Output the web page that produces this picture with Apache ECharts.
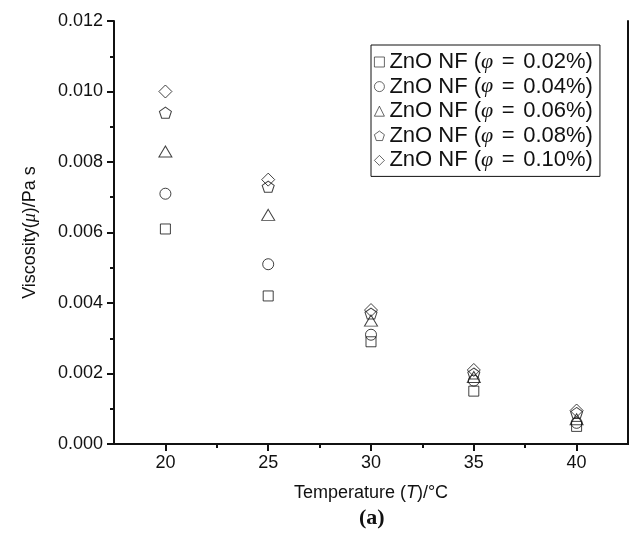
<!DOCTYPE html>
<html>
<head>
<meta charset="utf-8">
<script src="https://cdn.jsdelivr.net/npm/echarts@6/dist/echarts.min.js"></script>
<style>
  html, body { margin: 0; padding: 0; background: #fff; }
  #main { width: 636px; height: 544px; }
</style>
</head>
<body>
<div id="main"></div>
<script>
// temperatures (°C)
var temps = [20, 25, 30, 35, 40];
// volume fractions for the legend
var phis = ['0.02', '0.04', '0.06', '0.08', '0.10'];
// viscosity (Pa s), one list per fraction
var visc002 = [0.0061, 0.0042, 0.0029, 0.0015, 0.00050];
var visc004 = [0.0071, 0.0051, 0.0031, 0.0018, 0.00060];
var visc006 = [0.0083, 0.0065, 0.0035, 0.0019, 0.00070];
var visc008 = [0.0094, 0.0073, 0.0037, 0.0020, 0.00088];
var visc010 = [0.0100, 0.0075, 0.0038, 0.0021, 0.00095];
var xMajor = [20, 25, 30, 35, 40];
var xMinor = [22.5, 27.5, 32.5, 37.5];

var pentagon = 'path://M50 0 L97.6 34.5 L79.4 90.5 L20.6 90.5 L2.4 34.5 Z';
var symbols = ['rect', 'circle', 'triangle', pentagon, 'diamond'];
var sizes = [[10, 10], [11, 11], [13, 11], [12, 11], [13, 13]];
var allData = [visc002, visc004, visc006, visc008, visc010];

var font = 'Liberation Sans, Arial, sans-serif';

var series = [];
for (var i = 0; i < allData.length; i++) {
  var pts = [];
  for (var j = 0; j < temps.length; j++) pts.push([temps[j], allData[i][j]]);
  series.push({
    name: 'ZnO NF (\u03C6 = ' + phis[i] + '%)',
    type: 'scatter',
    data: pts,
    symbol: symbols[i],
    symbolSize: sizes[i],
    itemStyle: { color: 'rgba(0,0,0,0)', borderColor: '#111', borderWidth: 1 },
    emphasis: { disabled: true }
  });
}

var myChart = echarts.init(document.getElementById('main'));
var option = {
  backgroundColor: '#fff',
  animation: false,
  grid: { left: 114, right: 8, top: 21, bottom: 100 },
  legend: {
    orient: 'vertical',
    left: 371, top: 45,
    padding: [6, 7, 5, 3],
    itemGap: 2.6,
    itemWidth: 10, itemHeight: 10,
    itemStyle: { borderWidth: 0.8 },
    borderColor: '#111', borderWidth: 1,
    textStyle: {
      fontFamily: font, fontSize: 22, lineHeight: 22, color: '#111', padding: [0, 0, 0, 0],
      rich: {
        i: { fontFamily: 'Liberation Serif, serif', fontStyle: 'italic', fontSize: 22, lineHeight: 22, color: '#111' },
        e: { fontFamily: font, fontSize: 22, lineHeight: 22, color: '#111', width: 30, align: 'center' }
      }
    },
    formatter: function (name) {
      return name.replace('\u03C6 = ', '{i|\u03C6}{e|=}');
    },
    data: series.map(function (s) { return s.name; })
  },
  xAxis: [{
    type: 'value', min: 17.5, max: 42.5,
    name: 'Temperature ({i|T})/\u00B0C',
    nameLocation: 'middle', nameGap: 40,
    nameTextStyle: { fontFamily: font, fontSize: 18, color: '#111',
      rich: { i: { fontFamily: font, fontStyle: 'italic', fontSize: 18, color: '#111' } } },
    axisLine: { show: true, onZero: false, lineStyle: { color: '#111', width: 2 } },
    axisTick: { show: true, length: 7, customValues: xMajor, lineStyle: { color: '#111', width: 2 } },
    axisLabel: { customValues: xMajor, fontFamily: font, fontSize: 18, color: '#111', margin: 10 },
    splitLine: { show: false }
  }, {
    type: 'value', min: 17.5, max: 42.5, position: 'bottom',
    axisLine: { show: false },
    axisTick: { show: true, length: 4, customValues: xMinor, lineStyle: { color: '#111', width: 2 } },
    axisLabel: { show: false },
    splitLine: { show: false }
  }, {
    type: 'value', min: 17.5, max: 42.5, position: 'top',
    axisLine: { show: true, lineStyle: { color: '#111', width: 2 } },
    axisTick: { show: false }, axisLabel: { show: false }, splitLine: { show: false }
  }],
  yAxis: [{
    type: 'value', min: 0, max: 0.012, interval: 0.002,
    name: 'Viscosity({i|\u03BC})/Pa s',
    nameLocation: 'middle', nameGap: 75,
    nameTextStyle: { fontFamily: font, fontSize: 18, color: '#111',
      rich: { i: { fontFamily: 'Liberation Serif, serif', fontStyle: 'italic', fontSize: 18, color: '#111' } } },
    axisLine: { show: true, onZero: false, lineStyle: { color: '#111', width: 2 } },
    axisTick: { show: true, length: 7, lineStyle: { color: '#111', width: 2 } },
    minorTick: { show: true, splitNumber: 2, length: 4, lineStyle: { color: '#111', width: 2 } },
    axisLabel: { fontFamily: font, fontSize: 18, color: '#111', margin: 11,
      formatter: function (v) { return v.toFixed(3); } },
    splitLine: { show: false }
  }, {
    type: 'value', min: 0, max: 0.012, position: 'right',
    axisLine: { show: true, lineStyle: { color: '#111', width: 2 } },
    axisTick: { show: false }, axisLabel: { show: false }, splitLine: { show: false }
  }],
  graphic: [{
    type: 'text', left: 359, top: 507,
    style: { text: '(a)', fontFamily: 'Liberation Serif, serif', fontWeight: 'bold', fontSize: 22, fill: '#111' }
  }],
  series: series
};
myChart.setOption(option);
</script>
</body>
</html>
